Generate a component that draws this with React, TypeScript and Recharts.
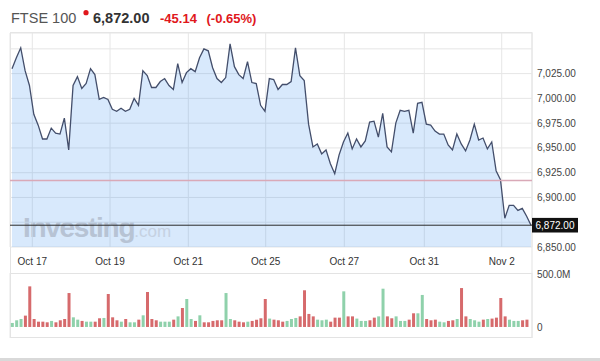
import React from 'react';
import { ComposedChart, Area, Bar, Cell, XAxis, YAxis, CartesianGrid, ReferenceLine } from 'recharts';

const FONT = '"Liberation Sans", Arial, Helvetica, sans-serif';

// hourly FTSE 100 closes
const prices: number[] = [
  7030, 7041, 7051, 7028, 7013, 6984, 6973, 6959, 6959, 6970,
  6965, 6964, 6980, 6948, 7013, 7022, 7010, 7015, 7030, 7024,
  6999, 7001, 6999, 6989, 6987, 6990, 6987, 6989, 7000, 6993,
  7028, 7023, 7011, 7011, 7017, 7020, 7013, 7009, 7035, 7016,
  7026, 7030, 7027, 7041, 7050, 7048, 7031, 7020, 7016, 7021,
  7055, 7032, 7024, 7020, 7037, 7016, 7015, 6993, 6987, 7020,
  7019, 7009, 7014, 7014, 7017, 7051, 7023, 7018, 6974, 6951,
  6954, 6944, 6948, 6934, 6924, 6943, 6956, 6965, 6949, 6959,
  6951, 6957, 6976, 6977, 6961, 6985, 6951, 6946, 6975, 6988,
  6987, 6988, 6965, 6995, 6996, 6974, 6973, 6967, 6964, 6964,
  6953, 6948, 6964, 6954, 6947, 6958, 6974, 6958, 6960, 6949,
  6956, 6927, 6918, 6879, 6892, 6892, 6887, 6889, 6881, 6872,
];

// hourly volume, millions
const volumesM: number[] = [
  38, 63, 75, 107, 383, 75, 50, 50, 44,
  57, 44, 63, 75, 320, 91, 69, 57, 50,
  50, 50, 82, 85, 311, 91, 63, 50, 75,
  44, 44, 69, 110, 330, 75, 63, 50, 50,
  50, 69, 100, 179, 264, 75, 57, 110, 44,
  44, 57, 63, 63, 320, 75, 63, 50, 44,
  50, 57, 69, 82, 264, 79, 69, 63, 50,
  57, 75, 85, 100, 346, 123, 100, 69, 63,
  69, 50, 88, 88, 336, 100, 100, 79, 57,
  57, 63, 88, 100, 361, 100, 82, 100, 57,
  57, 69, 129, 129, 302, 75, 63, 69, 50,
  44, 57, 63, 75, 367, 100, 75, 63, 50,
  69, 75, 79, 88, 273, 100, 69, 57, 57,
  63, 69,
];

// u = up (green), d = down (red)
const volumeDir: string[] = [
  'u', 'u', 'u', 'd', 'd', 'd', 'd', 'd', 'd',
  'u', 'd', 'd', 'd', 'd', 'u', 'u', 'd', 'u',
  'u', 'd', 'd', 'u', 'd', 'd', 'd', 'u', 'd',
  'u', 'u', 'd', 'u', 'd', 'd', 'd', 'u', 'u',
  'u', 'd', 'u', 'd', 'u', 'u', 'd', 'u', 'd',
  'd', 'd', 'd', 'd', 'u', 'u', 'd', 'd', 'd',
  'u', 'd', 'd', 'd', 'd', 'u', 'd', 'd', 'd',
  'u', 'u', 'u', 'd', 'd', 'd', 'd', 'u', 'u',
  'u', 'd', 'd', 'd', 'u', 'd', 'd', 'u', 'u',
  'u', 'd', 'd', 'u', 'u', 'd', 'd', 'u', 'u',
  'u', 'd', 'd', 'u', 'u', 'd', 'd', 'd', 'u',
  'u', 'd', 'd', 'u', 'd', 'd', 'u', 'u', 'u',
  'd', 'u', 'd', 'd', 'd', 'd', 'u', 'u', 'u',
  'd', 'd',
];

const dateLabels: string[] = ['Oct 17', 'Oct 19', 'Oct 21', 'Oct 25', 'Oct 27', 'Oct 31', 'Nov 2'];
const dateTicks: number[] = [4.65, 22.47, 40.43, 58.17, 76.2, 94.54, 112.29];

const priceTicks: number[] = [6850, 6875, 6900, 6925, 6950, 6975, 7000, 7025, 7050];
const hiddenPriceTicks: number[] = [6875, 7050];
const volumeTicks: number[] = [0, 500];

const instrument = 'FTSE 100';
const lastPrice = 6872.0;
const prevClose = 6917.14;
const change = -45.14;
const changePct = -0.65;

const priceData = prices.map((p, i) => ({ i, price: p }));
const volumeData = volumesM.map((v, i) => ({ i, vol: v, dir: volumeDir[i] }));

const fmt2 = (v: number) =>
  v.toLocaleString('en-US', { minimumFractionDigits: 2, maximumFractionDigits: 2 });

const GREEN = '#8fd1ab';
const RED = '#d66a6c';
const GRID = '#e6e6e6';
const X_DOMAIN: [number, number] = [-0.46, 119.23];

const LastPriceLabel = (props: any) => {
  const vb = props.viewBox || {};
  const x = (vb.x || 0) + (vb.width || 0);
  const y = vb.y || 0;
  return (
    <g>
      <rect x={x} y={y - 7.3} width={46} height={14.6} fill="#111" />
      <text x={x + 23} y={y + 3.6} textAnchor="middle" fill="#fff" fontSize={10} fontFamily={FONT}>
        {fmt2(lastPrice)}
      </text>
    </g>
  );
};

export default function App() {
  return (
    <div style={{ position: 'absolute', left: 0, top: 0, width: 600, height: 361, background: '#fff', fontFamily: FONT }}>
      <svg style={{ position: 'absolute', left: 0, top: 0 }} width={600} height={361}>
        <text x={23} y={237} fontSize={28} fontWeight="bold" fill="#d6d0cd" letterSpacing={-1.3} fontFamily={FONT}>
          Investing
          <tspan fontSize={17} fontWeight="normal" fill="#e8e2de" letterSpacing={0}>.com</tspan>
        </text>
        <rect x={10.5} y={32.5} width={521.5} height={305} fill="none" stroke="#e3e3e3" />
        <line x1={10} x2={532} y1={273.5} y2={273.5} stroke="#e3e3e3" />
        <rect x={0} y={358} width={600} height={3} fill="#d9d9d9" />
      </svg>

      <div style={{ position: 'absolute', left: 0, top: 0 }}>
        <ComposedChart width={600} height={273} data={priceData} margin={{ top: 33, right: 8, bottom: 0, left: 10 }}>
          <CartesianGrid stroke={GRID} />
          <XAxis
            dataKey="i"
            type="number"
            domain={X_DOMAIN}
            allowDataOverflow
            ticks={dateTicks}
            interval={0}
            tickFormatter={(v: number) => dateLabels[dateTicks.indexOf(v)] ?? ''}
            axisLine={false}
            tickLine={false}
            tickSize={0}
            tickMargin={11}
            height={26}
            tick={{ fontSize: 10, fill: '#333', fontFamily: FONT }}
          />
          <YAxis
            orientation="right"
            domain={[6850, 7066]}
            allowDataOverflow
            ticks={priceTicks}
            interval={0}
            width={60}
            axisLine={false}
            tickLine={false}
            tickSize={0}
            tickMargin={5}
            tickFormatter={(v: number) => (hiddenPriceTicks.includes(v) ? '' : fmt2(v))}
            tick={{ fontSize: 10, fill: '#444', fontFamily: FONT, textAnchor: 'start' }}
          />
          <Area
            type="linear"
            dataKey="price"
            stroke="#434e6b"
            strokeWidth={1.3}
            fill="#3d8fef"
            fillOpacity={0.2}
            dot={false}
            activeDot={false}
            isAnimationActive={false}
          />
          <ReferenceLine y={prevClose} stroke="#d9a9b7" strokeWidth={1.6} />
          <ReferenceLine y={lastPrice} stroke="#2a2a2a" strokeWidth={1} label={<LastPriceLabel />} />
        </ComposedChart>
      </div>

      <div style={{ position: 'absolute', left: 0, top: 263 }}>
        <ComposedChart width={600} height={75} data={volumeData} margin={{ top: 10, right: 8, bottom: 0, left: 10 }}>
          <CartesianGrid horizontal={false} stroke={GRID} />
          <XAxis
            dataKey="i"
            type="number"
            domain={X_DOMAIN}
            allowDataOverflow
            ticks={dateTicks}
            interval={0}
            height={0}
            tick={false}
            axisLine={false}
            tickLine={false}
          />
          <YAxis
            orientation="right"
            domain={[-104, 509]}
            allowDataOverflow
            ticks={volumeTicks}
            interval={0}
            width={60}
            axisLine={false}
            tickLine={false}
            tickSize={0}
            tickMargin={5}
            tickFormatter={(v: number) => (v === 0 ? '0' : `${v.toFixed(1)}M`)}
            tick={{ fontSize: 10, fill: '#444', fontFamily: FONT, textAnchor: 'start' }}
          />
          <Bar dataKey="vol" barSize={3} isAnimationActive={false}>
            {volumeData.map((d, k) => (
              <Cell key={k} fill={d.dir === 'u' ? GREEN : RED} />
            ))}
          </Bar>
        </ComposedChart>
      </div>

      <svg style={{ position: 'absolute', left: 0, top: 0, pointerEvents: 'none' }} width={600} height={40}>
        <text x={11} y={23.3} fontSize={14.5} fill="#555" fontFamily={FONT}>{instrument}</text>
        <circle cx={86} cy={12.7} r={2.6} fill="#e0171c" />
        <text x={93} y={23.3} fontSize={14.5} fontWeight="bold" fill="#333" fontFamily={FONT}>{fmt2(lastPrice)}</text>
        <text x={160} y={23.3} fontSize={13} fontWeight="bold" fill="#e0171c" fontFamily={FONT}>{change.toFixed(2)}</text>
        <text x={206.5} y={23.3} fontSize={13} fontWeight="bold" fill="#e0171c" fontFamily={FONT}>{`(${changePct.toFixed(2)}%)`}</text>
      </svg>
    </div>
  );
}
